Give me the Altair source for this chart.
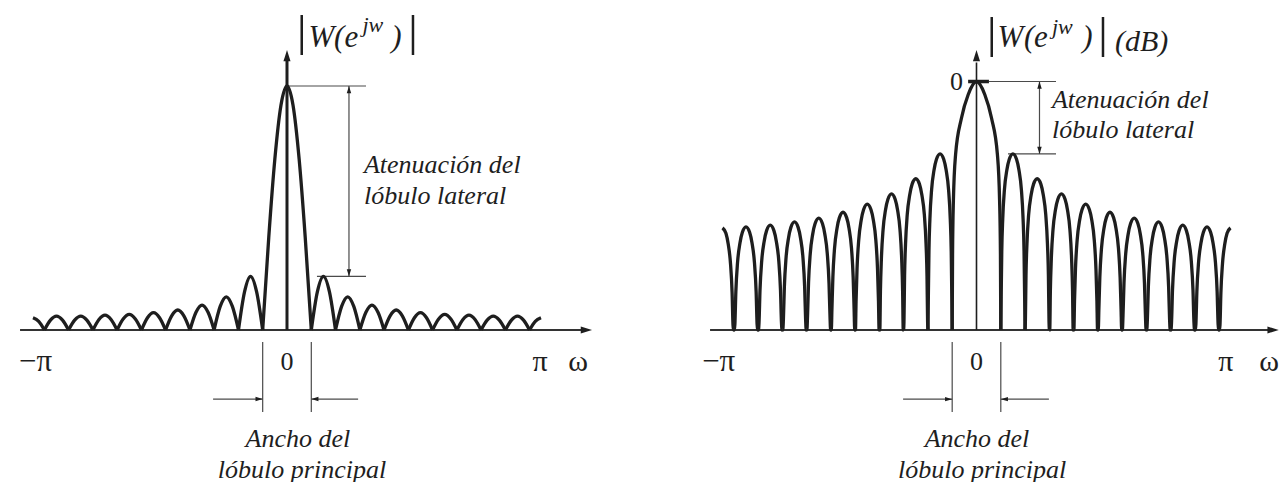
import altair as alt
import pandas as pd

# ---------------- spectrum of the window (ω in units of π) ----------------
# zero crossings of |W| on each side of ω = 0
ZEROS = [0.0957, 0.191, 0.287, 0.382, 0.478, 0.573, 0.669, 0.764, 0.860, 0.955]

# linear magnitude (main-lobe peak = 1): side-lobe peaks between consecutive zeros, value at ±π
LIN_PEAKS = [0.220, 0.136, 0.102, 0.082, 0.071, 0.064, 0.061, 0.057, 0.057]
LIN_EDGE = 0.050

# magnitude in dB (main-lobe peak = 0 dB), bottom of the plot at DB_FLOOR
DB_PEAKS = [-13.4, -18.0, -20.8, -22.7, -24.2, -25.3, -26.0, -26.6, -26.9]
DB_EDGE = -27.1
DB_FLOOR = -46.0

# outline of one lobe: position across the lobe (0..1) and level relative to its peak
LIN_LOBE_T = [0, 0.25, 0.5, 0.75, 1]
LIN_LOBE_LEVEL = [0, 0.71, 1, 0.71, 0]
LIN_MAIN_U = [0, 0.25, 0.5, 0.75, 1]
LIN_MAIN_LEVEL = [1, 0.92, 0.70, 0.38, 0]

DB_LOBE_T = [0, 0.015, 0.04, 0.08, 0.15, 0.25, 0.35, 0.5, 0.65, 0.75, 0.85, 0.92, 0.96, 0.985, 1]
DB_LOBE_DROP = [-60, -26.5, -18, -12, -6.6, -3, -1, 0, -1, -3, -6.6, -12, -18, -26.5, -60]
DB_MAIN_U = [0, 0.34, 0.62, 0.86, 0.95, 0.985, 1]
DB_MAIN_DROP = [0, -2.4, -6.8, -13.5, -22, -32, -60]

INK = "#1e1e1e"
THIN = "#4a4a4a"
SERIF = "Liberation Serif"
ARROW = "M0,0L0.5,1.6L-0.5,1.6Z"  # tip at the anchor point, pointing up


def curve_rows(main_u, main_lvl, lobe_t, lobe_lvl, peaks, edge, level):
    rows = []
    z1 = ZEROS[0]
    pts = [(-u * z1, l) for u, l in zip(main_u[::-1], main_lvl[::-1])]
    pts += [(u * z1, l) for u, l in zip(main_u[1:], main_lvl[1:])]
    for x, l in pts:
        rows.append({"lobe": "main", "x": x, "y": level(None, l)})
    for s in (-1, 1):
        for k, pk in enumerate(peaks):
            a, b = ZEROS[k], ZEROS[k + 1]
            for t, l in zip(lobe_t, lobe_lvl):
                rows.append({"lobe": f"{s}_{k}", "x": s * (a + t * (b - a)), "y": level(pk, l)})
        a = ZEROS[-1]
        b = 2 - a
        for t, l in zip(lobe_t, lobe_lvl):
            if t <= 0.5:
                rows.append({"lobe": f"{s}_edge", "x": s * (a + t * (b - a)), "y": level(edge, l)})
    return pd.DataFrame(rows)


def lin_level(pk, l):
    return l if pk is None else pk * l


def db_level(pk, d):
    return max((0 if pk is None else pk) + d, DB_FLOOR)


def panel(curve, rules, heads, texts, bars, xdom, ydom, w=640, h=482):
    sx = alt.Scale(domain=xdom, nice=False, zero=False)
    sy = alt.Scale(domain=ydom, nice=False, zero=False)
    X = alt.X("x:Q", scale=sx, axis=None)
    Y = alt.Y("y:Q", scale=sy, axis=None)

    line = alt.Chart(curve).mark_line(
        interpolate="monotone", strokeWidth=3.3, color=INK, strokeJoin="round"
    ).encode(x=X, y=Y, detail="lobe:N")

    rule = alt.Chart(pd.DataFrame(rules + bars)).mark_rule().encode(
        x=X, y=Y, x2="x2:Q", y2="y2:Q",
        strokeWidth=alt.StrokeWidth("w:Q", scale=None),
        color=alt.Color("c:N", scale=None),
    )

    head = alt.Chart(pd.DataFrame(heads)).mark_point(
        shape=ARROW, filled=True, opacity=1, color=INK
    ).encode(
        x=X, y=Y,
        size=alt.Size("s:Q", scale=None),
        angle=alt.Angle("a:Q", scale=None),
    )

    layers = [rule, line, head]
    tdf = pd.DataFrame(texts)
    for (align, italic), grp in tdf.groupby(["align", "italic"]):
        layers.append(
            alt.Chart(grp).mark_text(
                font=SERIF, align=align, baseline="middle",
                fontStyle="italic" if italic else "normal", color=INK,
            ).encode(x=X, y=Y, text="label:N", size=alt.Size("fs:Q", scale=None))
        )
    return alt.layer(*layers).properties(width=w, height=h)


def R(x, y, x2, y2, w=1.2, c=THIN):
    return {"x": x, "y": y, "x2": x2, "y2": y2, "w": w, "c": c}


def H(x, y, a, s=80):
    return {"x": x, "y": y, "a": a, "s": s}


def T(x, y, label, fs=26, align="left", italic=True):
    return {"x": x, "y": y, "label": label, "fs": fs, "align": align, "italic": italic}


# ---------------- linear magnitude ----------------
lin_curve = curve_rows(LIN_MAIN_U, LIN_MAIN_LEVEL, LIN_LOBE_T, LIN_LOBE_LEVEL,
                       LIN_PEAKS, LIN_EDGE, lin_level)
lin_rules = [
    R(-1.051, 0, 1.17, 0, 2.2, "#333333"),
    R(0, 0, 0, 1.12, 3, INK),
    R(0, 1, 0.311, 1),
    R(0.118, LIN_PEAKS[0], 0.311, LIN_PEAKS[0]),
    R(0.244, 1, 0.244, LIN_PEAKS[0]),
    R(-ZEROS[0], -0.049, -ZEROS[0], -0.336),
    R(ZEROS[0], -0.049, ZEROS[0], -0.336),
    R(-0.291, -0.283, -ZEROS[0], -0.283),
    R(0.28, -0.283, ZEROS[0], -0.283),
]
lin_bars = [R(0.058, 1.127, 0.058, 1.291, 2.5, INK), R(0.496, 1.127, 0.496, 1.291, 2.5, INK)]
lin_heads = [
    H(0, 1.148, 0, 200), H(1.201, 0, 90, 200),
    H(0.244, 1, 0), H(0.244, LIN_PEAKS[0], 180),
    H(-ZEROS[0], -0.283, 90), H(ZEROS[0], -0.283, 270),
]
lin_texts = [
    T(0.085, 1.197, "W", 31), T(0.185, 1.197, "(", 31), T(0.226, 1.197, "e", 31),
    T(0.297, 1.25, "jw", 22), T(0.41, 1.197, ")", 31),
    T(0.303, 0.676, "Atenuación del"), T(0.303, 0.549, "lóbulo lateral"),
    T(0.043, -0.445, "Ancho del", align="center"),
    T(0.059, -0.572, "lóbulo principal", align="center"),
    T(-0.99, -0.131, "−π", 31, "center", False),
    T(0, -0.131, "0", 26, "center", False),
    T(0.996, -0.131, "π", 30, "center", False),
    T(1.146, -0.131, "ω", 30, "center", False),
]
left = panel(lin_curve, lin_rules, lin_heads, lin_texts, lin_bars,
             [-1.1299, 1.3898], [-0.623, 1.3525])

# ---------------- magnitude in dB ----------------
db_curve = curve_rows(DB_MAIN_U, DB_MAIN_DROP, DB_LOBE_T, DB_LOBE_DROP,
                      DB_PEAKS, DB_EDGE, db_level)
db_rules = [
    R(-1.049, DB_FLOOR, 1.16, DB_FLOOR, 2.2, "#333333"),
    R(0, DB_FLOOR, 0, 3.5, 1.6, INK),
    R(-0.033, 0, 0.049, 0, 3.5, INK),
    R(0.049, 0, 0.313, 0),
    R(0.124, DB_PEAKS[0], 0.313, DB_PEAKS[0]),
    R(0.248, 0, 0.248, DB_PEAKS[0]),
    R(-ZEROS[0], -48.2, -ZEROS[0], -61.2),
    R(ZEROS[0], -48.2, ZEROS[0], -61.2),
    R(-0.289, -58.8, -ZEROS[0], -58.8),
    R(0.285, -58.8, ZEROS[0], -58.8),
]
db_bars = [R(0.060, 4.54, 0.060, 11.94, 2.5, INK), R(0.498, 4.54, 0.498, 11.94, 2.5, INK)]
db_heads = [
    H(0, 5.83, 0, 200), H(1.19, DB_FLOOR, 90, 200),
    H(0.248, 0, 0), H(0.248, DB_PEAKS[0], 180),
    H(-ZEROS[0], -58.8, 90), H(ZEROS[0], -58.8, 270),
]
db_texts = [
    T(0.083, 8.05, "W", 31), T(0.187, 8.05, "(", 31), T(0.226, 8.05, "e", 31),
    T(0.297, 10.09, "jw", 22), T(0.416, 8.05, ")", 31),
    T(0.545, 7.31, "(dB)", 30),
    T(-0.053, 0, "0", 26, "right", False),
    T(0.297, -3.42, "Atenuación del"), T(0.297, -8.98, "lóbulo lateral"),
    T(0.002, -66.2, "Ancho del", align="center"),
    T(0.022, -72.0, "lóbulo principal", align="center"),
    T(-1.015, -51.9, "−π", 31, "center", False),
    T(0, -51.9, "0", 26, "center", False),
    T(0.982, -51.9, "π", 30, "center", False),
    T(1.152, -51.9, "ω", 30, "center", False),
]
right = panel(db_curve, db_rules, db_heads, db_texts, db_bars,
              [-1.3248, 1.1949], [-74.14, 15.09])

chart = (
    alt.hconcat(left, right, spacing=0)
    .properties(padding=0, background="white")
    .configure_view(stroke=None)
)

chart.save("out.html", embed_options={"renderer": "svg", "actions": False})
